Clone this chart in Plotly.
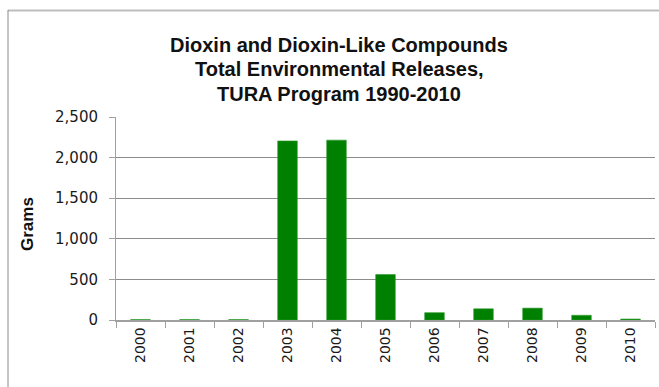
import plotly.graph_objects as go

# Dioxin and dioxin-like compound releases by reporting year (grams)
years = ["2000", "2001", "2002", "2003", "2004", "2005", "2006", "2007", "2008", "2009", "2010"]
grams = [5, 5, 5, 2205, 2215, 560, 90, 138, 146, 58, 12]

y_ticks = [0, 500, 1000, 1500, 2000, 2500]
y_tick_text = ["0", "500", "1,000", "1,500", "2,000", "2,500"]

title_lines = [
    "Dioxin and Dioxin-Like Compounds",
    "Total Environmental Releases,",
    "TURA Program 1990-2010",
]

W, H = 659, 387
L, R, T, B = 116, 4, 117, 67
pw, ph = W - L - R, H - T - B


def px(x):
    return (x - L) / pw


def py(y):
    return (H - B - y) / ph


fig = go.Figure(
    go.Bar(
        x=years,
        y=grams,
        marker=dict(color="#008000", line=dict(color="#2e9a2e", width=0.6)),
        width=0.4,
    )
)

fig.update_layout(
    width=W,
    height=H,
    margin=dict(l=L, r=R, t=T, b=B),
    paper_bgcolor="white",
    plot_bgcolor="white",
    showlegend=False,
    font=dict(family="DejaVu Sans", color="#1a1a1a"),
)

fig.update_xaxes(
    type="category",
    tickangle=-90,
    tickfont=dict(size=14, family="DejaVu Sans", color="#1a1a1a"),
    showline=True,
    linecolor="#a0a0a0",
    linewidth=1.5,
    ticks="outside",
    tickson="boundaries",
    ticklen=6,
    tickcolor="#a0a0a0",
    showgrid=False,
)

fig.update_yaxes(
    range=[0, 2500],
    tickvals=y_ticks,
    ticktext=y_tick_text,
    tickfont=dict(size=15, family="DejaVu Sans", color="#1a1a1a"),
    ticklabelstandoff=8,
    showline=True,
    linecolor="#a0a0a0",
    linewidth=1,
    ticks="outside",
    ticklen=6,
    tickcolor="#a0a0a0",
    showgrid=True,
    gridcolor="#8c8c8c",
    gridwidth=1,
    zeroline=False,
)

# Y-axis title
fig.add_annotation(
    text="<b>Grams</b>",
    xref="paper",
    yref="paper",
    x=px(27),
    y=py(224),
    xanchor="center",
    yanchor="middle",
    textangle=-90,
    showarrow=False,
    font=dict(size=17, family="Liberation Sans", color="#111111"),
)

# Title, one annotation per line
for i, line in enumerate(title_lines):
    fig.add_annotation(
        text=f"<b>{line}</b>",
        xref="paper",
        yref="paper",
        x=px(339),
        y=py(45 + 24.5 * i),
        xanchor="center",
        yanchor="middle",
        showarrow=False,
        font=dict(size=20, family="Liberation Sans", color="#111111"),
    )

# Chart frame: top and left edges
fig.add_shape(
    type="line", xref="paper", yref="paper",
    x0=px(8), x1=px(W + 5), y0=py(10.5), y1=py(10.5),
    line=dict(color="#bdbdbd", width=2),
)
fig.add_shape(
    type="line", xref="paper", yref="paper",
    x0=px(8), x1=px(8), y0=py(10), y1=py(H + 5),
    line=dict(color="#8a8a8a", width=1),
)

fig.write_html("out.html")
